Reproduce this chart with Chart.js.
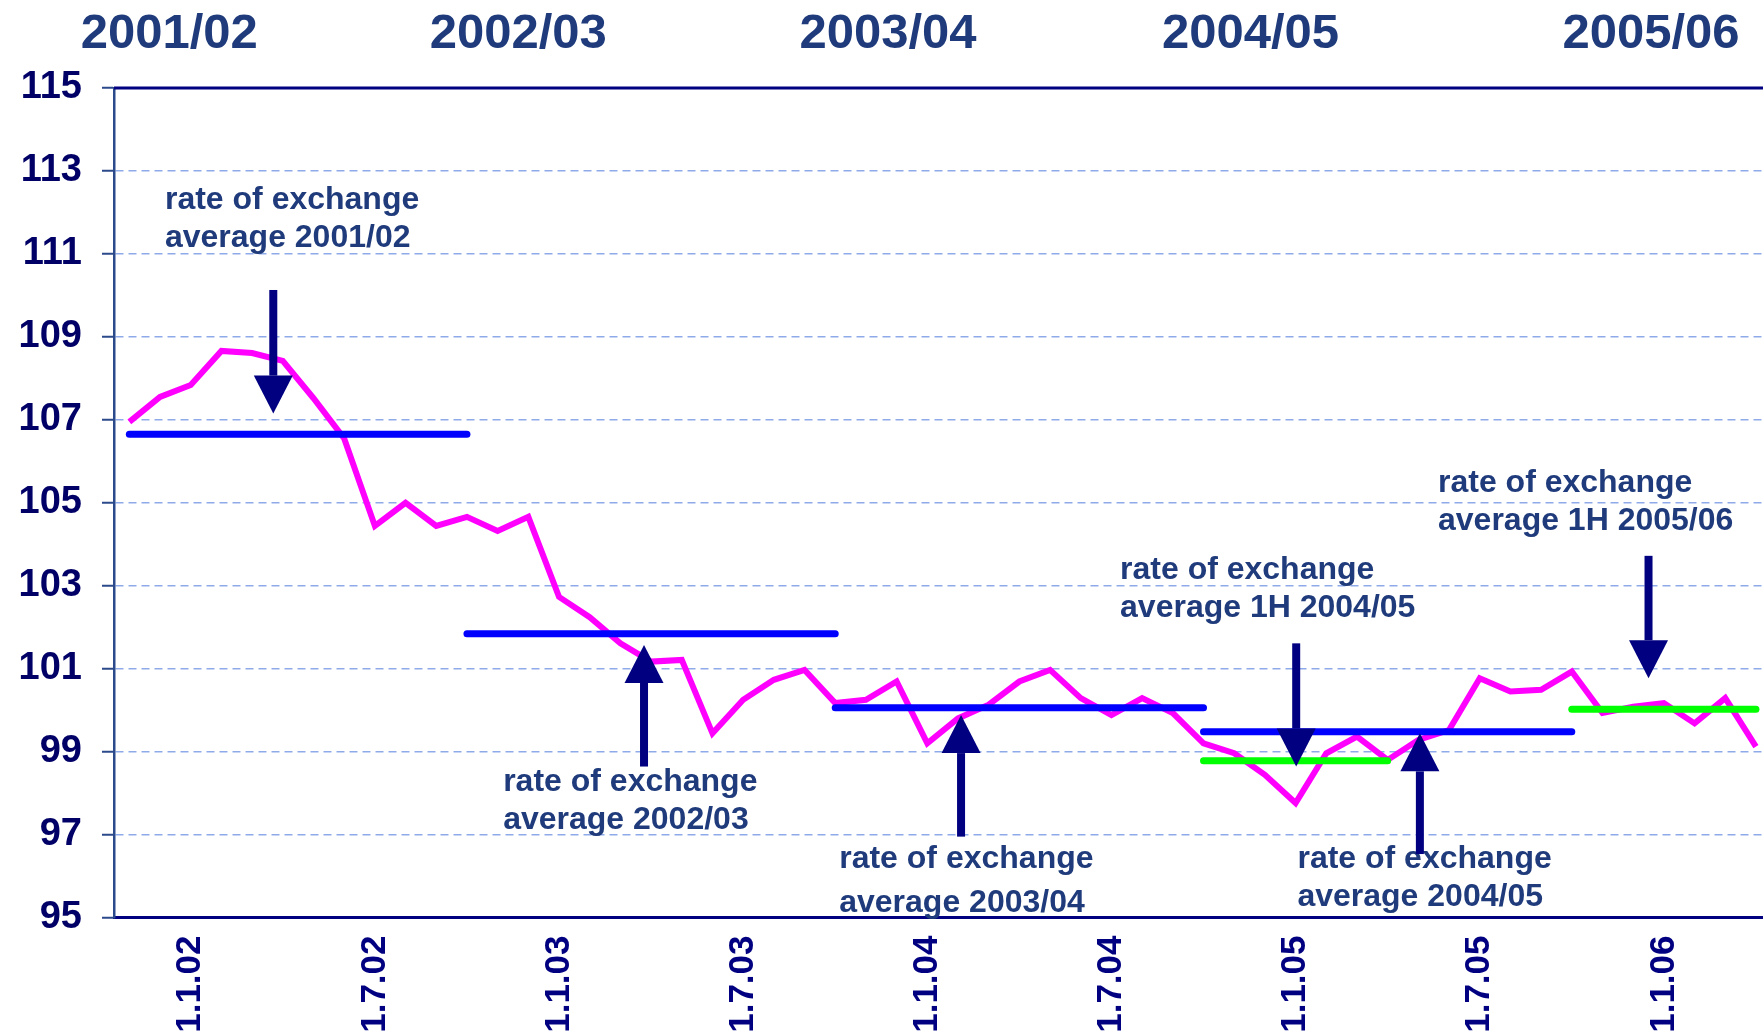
<!DOCTYPE html>
<html>
<head>
<meta charset="utf-8">
<script src="https://cdn.jsdelivr.net/npm/chart.js@4.4.1/dist/chart.umd.min.js"></script>
<style>
  html, body { margin: 0; padding: 0; background: #fff; }
  canvas { display: block; }
</style>
</head>
<body>
<canvas id="fxChart" width="1763" height="1032"></canvas>
<script>
// monthly rate of exchange, month.year
var months = ['11.01','12.01','1.02','2.02','3.02','4.02','5.02','6.02','7.02','8.02','9.02','10.02',
  '11.02','12.02','1.03','2.03','3.03','4.03','5.03','6.03','7.03','8.03','9.03','10.03',
  '11.03','12.03','1.04','2.04','3.04','4.04','5.04','6.04','7.04','8.04','9.04','10.04',
  '11.04','12.04','1.05','2.05','3.05','4.05','5.05','6.05','7.05','8.05','9.05','10.05',
  '11.05','12.05','1.06','2.06','3.06','4.06'];
var rates = [106.95, 107.55, 107.84, 108.66, 108.61, 108.42, 107.52, 106.55, 104.44, 105.00, 104.44, 104.66,
  104.32, 104.66, 102.73, 102.24, 101.61, 101.17, 101.21, 99.44, 100.25, 100.73, 100.97, 100.17,
  100.25, 100.69, 99.20, 99.80, 100.13, 100.69, 100.97, 100.29, 99.88, 100.29, 99.93, 99.20,
  98.96, 98.44, 97.76, 98.96, 99.36, 98.80, 99.28, 99.52, 100.77, 100.45, 100.49, 100.93,
  99.93, 100.08, 100.17, 99.68, 100.29, 99.12];

// fiscal year averages (x in months since 1.1.02)
var fiscalYears = ['2001/02', '2002/03', '2003/04', '2004/05', '2005/06'];
var avgValues = [106.65, 101.84, 100.06, 99.48];
var avgStart = [-2, 9, 21, 33];
var avgEnd = [9, 21, 33, 45];
var halfYears = ['1H 2004/05', '1H 2005/06'];
var halfValues = [98.78, 100.02];
var halfStart = [33, 45];
var halfEnd = [39, 51];

var tickMonths = [0, 6, 12, 18, 24, 30, 36, 42, 48];
var tickLabels = ['1.1.02', '1.7.02', '1.1.03', '1.7.03', '1.1.04', '1.7.04', '1.1.05', '1.7.05', '1.1.06'];
var yTicks = [95, 97, 99, 101, 103, 105, 107, 109, 111, 113, 115];

function monthIndex(label) {
  var p = label.split('.');
  return (parseInt(p[1], 10) - 2) * 12 + (parseInt(p[0], 10) - 1);
}

var FONT = '"Liberation Sans", Arial, sans-serif';
var TEXT = '#1F3B7B';
var NAVY = '#000080';

// arrows and notes
var arrowX = [2.69, 14.77, 25.1, 36.02, 40.05, 47.5];
var arrowTail = [110.13, 98.64, 96.95, 101.61, 96.53, 103.72];
var arrowTip = [107.15, 101.57, 99.88, 98.64, 99.44, 100.77];

var notes = [
  { x: -0.84, y: 112.09, gap: 38, lines: ['rate of exchange', 'average 2001/02'] },
  { x: 10.18, y: 98.06, gap: 38, lines: ['rate of exchange', 'average 2002/03'] },
  { x: 21.13, y: 96.19, gap: 44, lines: ['rate of exchange', 'average 2003/04'] },
  { x: 30.28, y: 103.15, gap: 38, lines: ['rate of exchange', 'average 1H 2004/05'] },
  { x: 36.06, y: 96.2, gap: 38, lines: ['rate of exchange', 'average 2004/05'] },
  { x: 40.64, y: 105.25, gap: 38, lines: ['rate of exchange', 'average 1H 2005/06'] }
];
var yearLabelX = [-0.70, 10.67, 22.72, 34.53, 47.58];

var datasets = [];
avgValues.forEach(function (v, i) {
  datasets.push({
    label: fiscalYears[i], order: 0,
    data: [{ x: avgStart[i], y: v }, { x: avgEnd[i], y: v }],
    borderColor: '#0000FF', borderWidth: 7, borderCapStyle: 'round', pointRadius: 0
  });
});
// light stripe seen at the start of the 2003/04 bar
datasets.push({
  label: 'stripe', order: 0,
  data: [{ x: avgStart[2], y: avgValues[2] }, { x: avgStart[2] + 2, y: avgValues[2] }],
  borderColor: '#F4A6C6', borderWidth: 2, pointRadius: 0
});
halfValues.forEach(function (v, i) {
  datasets.push({
    label: halfYears[i], order: 0,
    data: [{ x: halfStart[i], y: v }, { x: halfEnd[i], y: v }],
    borderColor: '#00FF00', borderWidth: 7, borderCapStyle: 'round', pointRadius: 0
  });
});
datasets.push({
  label: 'rate of exchange', order: 1,
  data: months.map(function (m, i) { return { x: monthIndex(m), y: rates[i] }; }),
  borderColor: '#FF00FF', borderWidth: 6, pointRadius: 0, tension: 0
});

var overlay = {
  id: 'overlay',
  afterDatasetsDraw: function (chart) {
    var ctx = chart.ctx, a = chart.chartArea, x = chart.scales.x, y = chart.scales.y;
    ctx.save();
    // top frame line
    ctx.strokeStyle = NAVY;
    ctx.lineWidth = 3;
    ctx.beginPath();
    ctx.moveTo(a.left, y.getPixelForValue(115));
    ctx.lineTo(a.right, y.getPixelForValue(115));
    ctx.stroke();

    // notes
    ctx.fillStyle = TEXT;
    ctx.font = 'bold 32px ' + FONT;
    ctx.textAlign = 'left';
    ctx.textBaseline = 'alphabetic';
    notes.forEach(function (n) {
      var px = x.getPixelForValue(n.x), py = y.getPixelForValue(n.y);
      n.lines.forEach(function (t, k) { ctx.fillText(t, px, py + k * n.gap); });
    });

    // fiscal year headers
    ctx.font = 'bold 49px ' + FONT;
    ctx.textAlign = 'center';
    fiscalYears.forEach(function (t, i) {
      ctx.fillText(t, x.getPixelForValue(yearLabelX[i]), 48);
    });

    // arrows
    ctx.fillStyle = NAVY;
    arrowX.forEach(function (m, i) {
      var px = x.getPixelForValue(m);
      var p0 = y.getPixelForValue(arrowTail[i]);
      var p1 = y.getPixelForValue(arrowTip[i]);
      var dir = p1 > p0 ? 1 : -1;
      var base = p1 - dir * 38;
      ctx.fillRect(px - 4, Math.min(p0, base), 8, Math.abs(base - p0));
      ctx.beginPath();
      ctx.moveTo(px - 19.5, base);
      ctx.lineTo(px + 19.5, base);
      ctx.lineTo(px, p1);
      ctx.closePath();
      ctx.fill();
    });
    ctx.restore();
  }
};

new Chart(document.getElementById('fxChart').getContext('2d'), {
  type: 'line',
  data: { datasets: datasets },
  options: {
    responsive: false,
    devicePixelRatio: 1,
    animation: false,
    layout: { padding: { top: 88, left: 0, right: 0, bottom: 0 } },
    plugins: { legend: { display: false }, tooltip: { enabled: false } },
    scales: {
      x: {
        type: 'linear',
        min: -2.5,
        max: 51.23,
        afterBuildTicks: function (s) { s.ticks = tickMonths.map(function (v) { return { value: v }; }); },
        afterFit: function (s) { s.height = 114.5; },
        grid: { display: false },
        border: { display: true, color: NAVY, width: 3 },
        ticks: {
          autoSkip: false,
          maxRotation: 90,
          minRotation: 90,
          padding: 10,
          color: NAVY,
          font: { family: FONT, size: 35, weight: 'bold' },
          callback: function (v) { return tickLabels[tickMonths.indexOf(v)]; }
        }
      },
      y: {
        min: 95,
        max: 115,
        afterBuildTicks: function (s) { s.ticks = yTicks.map(function (v) { return { value: v }; }); },
        afterFit: function (s) { s.width = 114; },
        grid: { color: '#8FAAE8', lineWidth: 1.5, tickLength: 12, tickColor: '#2B4A8B', tickWidth: 2 },
        border: { display: true, color: '#2B4A8B', width: 2.5, dash: [8, 5] },
        ticks: {
          padding: 20,
          color: '#000066',
          font: { family: FONT, size: 38, weight: 'bold' },
          callback: function (v) { return String(v); }
        }
      }
    }
  },
  plugins: [overlay]
});
</script>
</body>
</html>
